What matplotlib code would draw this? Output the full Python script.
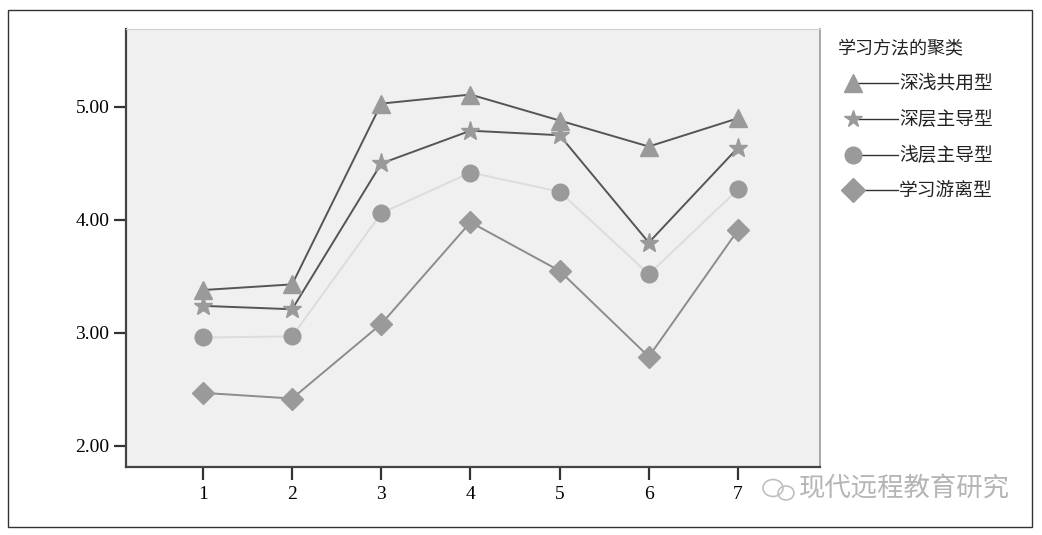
import matplotlib
matplotlib.use("Agg")
import matplotlib.pyplot as plt
from matplotlib.lines import Line2D
from matplotlib.patches import Rectangle, Ellipse

plt.rcParams['font.family'] = ['Noto Sans CJK SC', 'DejaVu Sans']

x = [1, 2, 3, 4, 5, 6, 7]
xtick_labels = ['1', '2', '3', '4', '5', '6', '7']
yticks = [2.0, 3.0, 4.0, 5.0]
ytick_labels = ['2.00', '3.00', '4.00', '5.00']

legend_title = '学习方法的聚类'
names = ['深浅共用型', '深层主导型', '浅层主导型', '学习游离型']
deep_shallow = [3.38, 3.43, 5.03, 5.11, 4.88, 4.65, 4.90]
deep = [3.24, 3.21, 4.50, 4.79, 4.75, 3.80, 4.64]
shallow = [2.96, 2.97, 4.06, 4.42, 4.25, 3.52, 4.27]
detached = [2.47, 2.42, 3.08, 3.98, 3.55, 2.79, 3.91]
series = [deep_shallow, deep, shallow, detached]

markers = ['^', '*', 'o', 'D']
msizes = [13, 14, 12, 11]
line_colors = ['#555555', '#555555', '#dcdcdc', '#8c8c8c']
marker_color = '#9a9a9a'

fig = plt.figure(figsize=(10.42, 5.35), dpi=100)
fig.patch.set_facecolor('white')
# outer frame
fig.patches.append(Rectangle((8 / 1042, 1 - 527 / 535), 1024 / 1042, 517 / 535,
                             transform=fig.transFigure, fill=False,
                             edgecolor='#333333', linewidth=1.0))

ax = fig.add_axes([126 / 1042, 1 - 467 / 535, 694 / 1042, 438 / 535])
ax.set_facecolor('#f0f0f0')

zorders = [6, 5, 4, 3]
for vals, m, ms, lc, z in zip(series, markers, msizes, line_colors, zorders):
    ax.plot(x, vals, color=lc, linewidth=1.4, zorder=z)
    ax.plot(x, vals, linestyle='none', marker=m, markersize=ms,
            markerfacecolor=marker_color, markeredgecolor=marker_color, zorder=z + 0.5)

ax.set_xlim(0.137, 7.92)
ax.set_ylim(1.814, 5.69)
ax.set_xticks(x)
ax.set_xticklabels(xtick_labels, fontfamily='Liberation Serif', fontsize=14)
ax.set_yticks(yticks)
ax.set_yticklabels(ytick_labels, fontfamily='Liberation Serif', fontsize=14)
ax.tick_params(axis='both', direction='out', length=9, width=1.6, color='#333333', pad=3)
ax.tick_params(axis='x', pad=5)
for s in ['left', 'bottom']:
    ax.spines[s].set_color('#444444')
    ax.spines[s].set_linewidth(1.6)
ax.spines['top'].set_color('#cfcfcf')
ax.spines['right'].set_color('#999999')
ax.spines['right'].set_linewidth(1.2)

# legend (manual)
fig.text(838 / 1042, 1 - 48 / 535, legend_title, fontsize=13, va='center', ha='left', color='#222222')
rows = [83, 119, 155, 190]
for name, m, ms, yy in zip(names, markers, [13, 13, 12, 12], rows):
    yf = 1 - yy / 535
    fig.add_artist(Line2D([858 / 1042, 898 / 1042], [yf, yf], color='#333333', linewidth=1.0,
                          transform=fig.transFigure))
    fig.add_artist(Line2D([853 / 1042], [yf], marker=m, markersize=ms, linestyle='none',
                          markerfacecolor=marker_color, markeredgecolor=marker_color,
                          transform=fig.transFigure))
    fig.text(899 / 1042, yf, name, fontsize=13.5, va='center', ha='left', color='#222222')

# watermark
fig.add_artist(Ellipse((773 / 1042, 1 - 488 / 535), 20 / 1042, 17 / 535, transform=fig.transFigure,
                       fill=False, edgecolor='#c0c0c0', linewidth=1.2))
fig.add_artist(Ellipse((786 / 1042, 1 - 493 / 535), 16 / 1042, 14 / 535, transform=fig.transFigure,
                       fill=False, edgecolor='#c0c0c0', linewidth=1.2))
fig.text(799 / 1042, 1 - 489 / 535, '现代远程教育研究', fontsize=19, va='center', ha='left',
         color='#b5b5b5')

fig.savefig('out.png', dpi=100)
